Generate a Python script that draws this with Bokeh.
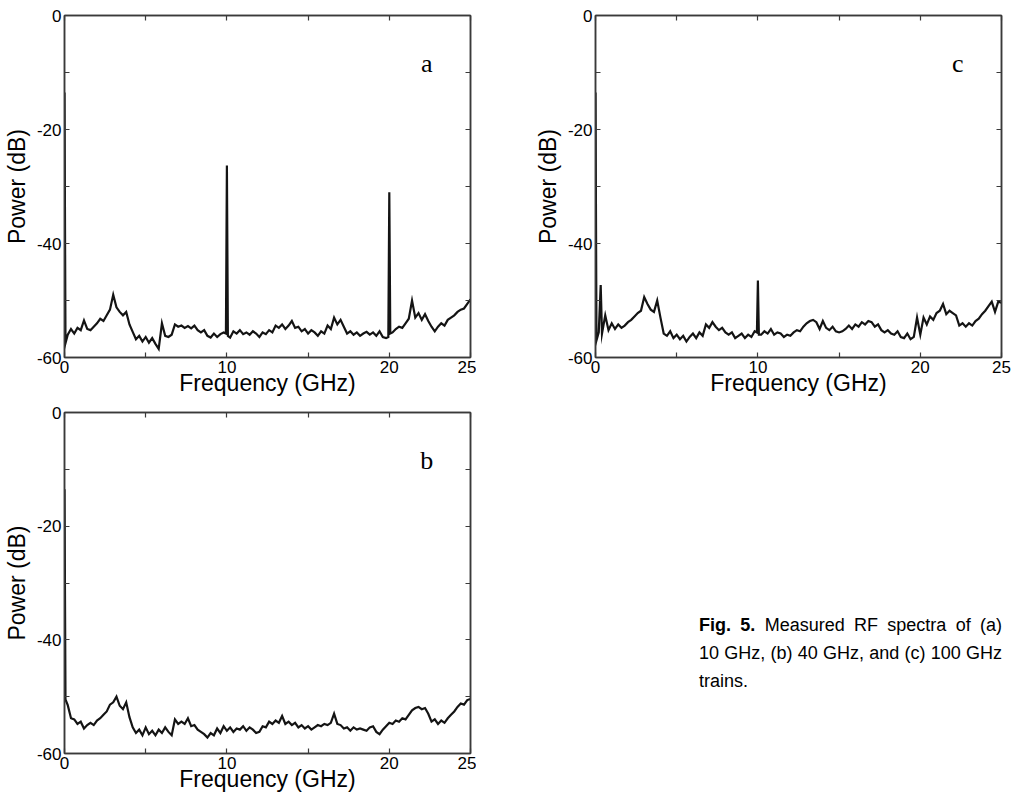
from bokeh.plotting import figure
from bokeh.models import FixedTicker, LinearAxis, Label, Range1d, Div, Spacer
from bokeh.layouts import column, row
from bokeh.embed import file_html
from bokeh.resources import INLINE

# frequency sampling grid (GHz), 0.2 GHz steps from 0 to 25
freq_grid = [round(0.2 * i, 1) for i in range(126)]

# ---- panel (a): 10 GHz train ----
power_a = [
    -13.5, -56.0, -55.0, -55.8, -54.8, -55.2, -53.5, -55.0, -55.2, -54.6,
    -54.0, -53.2, -53.6, -52.6, -51.6, -49.0, -51.2, -52.0, -52.6, -52.0,
    -54.2, -55.5, -56.8, -56.2, -57.2, -56.4, -57.4, -56.6, -57.6, -58.5,
    -54.0, -56.2, -56.4, -56.0, -54.2, -54.6, -54.4, -54.8, -54.5, -54.9,
    -54.4, -55.2, -55.6, -55.2, -56.2, -56.5, -55.8, -56.4, -55.9, -55.6,
    -26.3, -56.5, -55.4, -55.8, -55.2, -55.9, -55.6, -56.0, -55.4, -55.8,
    -56.4, -55.6, -55.9, -55.2, -55.6, -54.4, -54.8, -54.2, -55.0, -54.4,
    -53.6, -54.8, -54.6, -55.4, -55.0, -55.8, -55.2, -55.6, -56.2, -55.4,
    -55.8, -54.4, -55.0, -53.0, -54.2, -53.4, -54.6, -55.8, -55.4, -56.0,
    -55.6, -56.2, -55.8, -55.5, -56.0, -55.6, -56.2, -55.4, -56.4, -56.6,
    -31.0, -55.6, -55.0, -54.6, -54.8, -54.0, -53.2, -50.0, -53.0, -52.2,
    -53.4, -52.4, -53.6, -54.6, -55.4, -54.6, -54.0, -54.4, -53.4, -53.0,
    -52.6, -52.0, -51.6, -51.4, -50.6, -49.8,
]
extra_f_a = [0.06, 9.94, 10.06, 19.94, 20.06]
extra_p_a = [-57.5, -55.8, -56.2, -56.4, -55.8]

# ---- panel (b): 40 GHz train ----
power_b = [
    -13.5, -51.5, -53.8, -54.0, -54.8, -54.4, -55.6, -55.0, -54.6, -55.0,
    -54.2, -53.8, -53.2, -52.6, -51.4, -51.0, -50.0, -51.6, -52.2, -51.0,
    -53.6, -55.4, -56.4, -55.8, -56.8, -55.4, -56.6, -56.0, -56.8, -55.8,
    -56.4, -55.4, -56.2, -56.8, -54.0, -54.8, -54.4, -54.8, -53.8, -55.2,
    -55.0, -55.8, -56.2, -56.6, -57.2, -56.4, -56.8, -55.6, -56.4, -55.2,
    -56.0, -55.4, -56.2, -55.6, -55.8, -55.2, -56.0, -55.4, -55.8, -56.4,
    -56.2, -55.2, -55.4, -54.4, -54.8, -54.2, -54.6, -53.4, -54.8, -54.4,
    -55.0, -54.6, -55.4, -55.0, -55.6, -55.2, -55.8, -55.4, -55.0, -55.2,
    -54.8, -55.0, -54.6, -53.0, -54.8, -55.0, -55.6, -55.4, -56.0, -55.4,
    -55.8, -55.6, -55.8, -56.0, -55.4, -55.2, -56.2, -56.6, -55.8, -55.2,
    -54.6, -54.8, -54.2, -54.4, -53.8, -54.0, -53.2, -52.4, -52.0, -51.8,
    -52.2, -52.0, -53.0, -54.4, -54.0, -54.8, -54.2, -54.6, -53.8, -53.2,
    -52.6, -51.8, -51.2, -51.4, -50.6, -50.4,
]
extra_f_b = [0.06]
extra_p_b = [-50.5]

# ---- panel (c): 100 GHz train ----
power_c = [
    -13.5, -55.6, -55.8, -52.6, -55.2, -54.0, -55.0, -54.2, -54.8, -54.4,
    -53.8, -53.4, -52.8, -52.2, -51.8, -49.4, -50.6, -51.6, -52.0, -50.0,
    -53.0, -55.8, -56.2, -55.4, -56.6, -56.0, -56.8, -56.2, -57.2, -56.4,
    -55.8, -56.6, -55.6, -56.2, -54.2, -54.8, -53.8, -54.6, -55.2, -54.8,
    -55.6, -56.0, -55.6, -56.6, -56.2, -55.8, -56.6, -56.0, -56.4, -55.4,
    -46.5, -56.0, -55.4, -55.8, -55.0, -56.0, -55.6, -55.8, -56.4, -56.0,
    -56.2, -55.6, -55.2, -55.4, -54.6, -54.0, -53.6, -53.4, -53.8, -55.0,
    -53.6, -54.8, -55.2, -54.6, -55.4, -55.6, -55.4, -55.0, -54.4, -55.0,
    -54.2, -54.6, -53.8, -54.2, -53.6, -53.8, -54.6, -54.2, -55.2, -55.6,
    -55.2, -55.8, -56.0, -55.4, -56.4, -56.6, -55.8, -56.8, -56.4, -53.0,
    -56.0, -53.0, -54.2, -52.8, -53.4, -52.2, -51.8, -50.6, -52.4, -51.8,
    -52.2, -52.6, -54.4, -54.0, -54.6, -54.0, -54.4, -53.6, -53.2, -52.4,
    -51.8, -51.0, -50.2, -52.0, -50.2, -50.4,
]
extra_f_c = [0.06, 0.32, 9.94, 10.06]
extra_p_c = [-57.0, -47.3, -55.6, -56.0]

x_ticks = [0, 5, 10, 15, 20, 25]
x_tick_text = {0: "0", 5: "", 10: "10", 15: "", 20: "20", 25: "25"}
y_ticks = [-60, -50, -40, -30, -20, -10, 0]
y_tick_text = {-60: "-60", -50: "", -40: "-40", -30: "", -20: "-20", -10: "", 0: "0"}

x_title = "Frequency (GHz)"
y_title = "Power (dB)"
caption_lines = ["Measured RF spectra of (a)",
                 "10 GHz, (b) 40 GHz, and (c) 100 GHz",
                 "trains."]

FONT = "Liberation Sans"
FRAME = "#3a3a3a"


def merge(base, ef, ep):
    pts = list(zip(freq_grid, base)) + list(zip(ef, ep))
    pts.sort(key=lambda t: t[0])
    return [t[0] for t in pts], [t[1] for t in pts]


def style_ticks(ax):
    ax.major_tick_in = 5
    ax.major_tick_out = 0
    ax.minor_tick_line_color = None
    ax.axis_line_color = FRAME
    ax.axis_line_width = 1.5
    ax.major_tick_line_color = FRAME
    ax.major_tick_line_width = 1.2


def panel(base, ef, ep, letter, top, bottom, left, right, fh):
    p = figure(frame_width=406, frame_height=fh, x_range=Range1d(0, 25),
               y_range=Range1d(-60, 0), output_backend="svg",
               toolbar_location=None, min_border_left=left,
               min_border_right=right, min_border_top=top,
               min_border_bottom=bottom, background_fill_color="white",
               border_fill_color="white")
    p.grid.visible = False
    p.outline_line_color = FRAME
    p.outline_line_width = 1.5
    for ax in (p.xaxis[0], p.yaxis[0]):
        style_ticks(ax)
        ax.major_label_text_font = FONT
        ax.major_label_text_font_size = "17px"
        ax.major_label_text_color = "black"
        ax.major_label_standoff = 3
        ax.axis_label_text_font = FONT
        ax.axis_label_text_font_size = "23px"
        ax.axis_label_text_font_style = "normal"
        ax.axis_label_text_color = "black"
    p.xaxis.ticker = FixedTicker(ticks=x_ticks)
    p.xaxis.major_label_overrides = x_tick_text
    p.xaxis.axis_label = x_title
    p.xaxis.axis_label_standoff = -6
    p.yaxis.ticker = FixedTicker(ticks=y_ticks)
    p.yaxis.major_label_overrides = y_tick_text
    p.yaxis.major_label_orientation = "horizontal"
    p.yaxis.axis_label = y_title
    p.yaxis.axis_label_standoff = 4

    top_ax = LinearAxis(ticker=FixedTicker(ticks=x_ticks), major_label_text_font_size="0px")
    right_ax = LinearAxis(ticker=FixedTicker(ticks=y_ticks), major_label_text_font_size="0px")
    for ax in (top_ax, right_ax):
        style_ticks(ax)
        ax.major_label_standoff = 0
    p.add_layout(top_ax, "above")
    p.add_layout(right_ax, "right")

    xs, ys = merge(base, ef, ep)
    p.line(xs, ys, line_width=2.2, line_color="#141414", line_join="miter")
    p.add_layout(Label(x=22.3, y=-8.4, text=letter, text_font="Liberation Serif",
                       text_font_size="26px", text_align="center",
                       text_baseline="middle", text_color="black"))
    return p


pa = panel(power_a, extra_f_a, extra_p_a, "a", top=15, bottom=42, left=63, right=6, fh=342)
pc = panel(power_c, extra_f_c, extra_p_c, "c", top=15, bottom=42, left=63, right=10, fh=342)
pb = panel(power_b, extra_f_b, extra_p_b, "b", top=13, bottom=42, left=63, right=6, fh=341)

line_style = ("font-family: 'Liberation Sans', Arial, sans-serif; font-size: 18px; "
              "line-height: 28px; color: black; text-align: justify; "
              "text-align-last: justify; white-space: nowrap; width: 303px;")
last_style = line_style.replace("text-align-last: justify", "text-align-last: left")
caption_html = (
    f'<div style="{line_style}"><b>Fig. 5.</b> {caption_lines[0]}</div>'
    f'<div style="{line_style}">{caption_lines[1]}</div>'
    f'<div style="{last_style}">{caption_lines[2]}</div>'
)
caption = Div(text=caption_html, width=303, height=90)

top_row = row(pa, Spacer(width=55), pc)
bottom_row = row(pb, Spacer(width=218), column(Spacer(height=207), caption))
layout = column(top_row, bottom_row)

open("out.html", "w").write(file_html(layout, INLINE))
